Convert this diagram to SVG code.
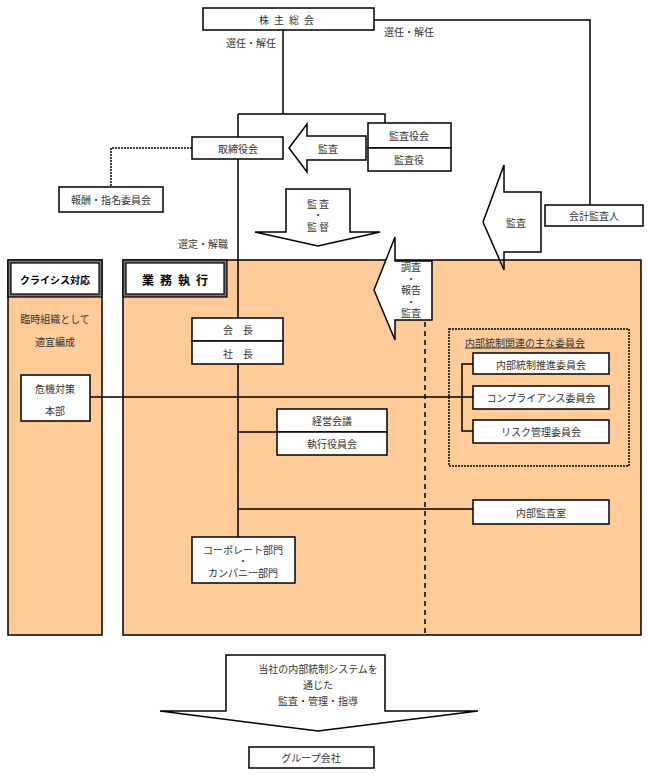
<svg xmlns="http://www.w3.org/2000/svg" width="648" height="775" viewBox="0 0 648 775">
<style>
text{font-family:"Noto Sans CJK JP","Noto Sans",sans-serif;font-size:10px;fill:#333;text-anchor:middle;dominant-baseline:central}
text.sd{font-size:8px;font-weight:bold}
.box{fill:#fff;stroke:#000;stroke-width:1.5}
.ln{fill:none;stroke:#000;stroke-width:1.5}
.dot{fill:none;stroke:#000;stroke-width:1.5;stroke-dasharray:2 1}
.dash{fill:none;stroke:#000;stroke-width:1.5;stroke-dasharray:5 4}
.panel{fill:#FFCC99;stroke:#000;stroke-width:1.5}
.arr{fill:#fff;stroke:#000;stroke-width:1.5;stroke-linejoin:miter}
.hdr{font-weight:bold;fill:#000}
</style>
<rect width="648" height="775" fill="#fff"/>

<polygon points="483,222 504,165 504,192 541,192 541,252 504,252 504,270" fill="#fff"/>

<g id="panel-crisis">
<rect class="panel" x="8" y="260" width="94" height="375"/>
<rect x="8" y="260" width="94" height="37" fill="#777" stroke="#000" stroke-width="1.2"/>
<rect x="11" y="263" width="88" height="31" fill="#fff" stroke="#000" stroke-width="1.2"/>
<text class="hdr" x="55" y="279">クライシス対応</text>
<text x="55" y="318">臨時組織として</text>
<text x="55" y="341">適宜編成</text>
</g>
<g id="panel-exec">
<rect class="panel" x="123" y="260" width="518" height="375"/>
<rect x="123" y="260" width="104" height="37" fill="#777" stroke="#000" stroke-width="1.2"/>
<rect x="126" y="263" width="98" height="31" fill="#fff" stroke="#000" stroke-width="1.2"/>
<text class="hdr" x="178" y="279" style="font-size:12px;letter-spacing:6px">業務執行</text>
</g>

<g id="connectors">
<polyline class="ln" points="283,30 283,114"/>
<polyline class="ln" points="238,114 385,114 385,123"/>
<polyline class="ln" points="238,114 238,137"/>
<polyline class="ln" points="374,20 590,20 590,205"/>
<polyline class="ln" points="238,159 238,318"/>
<polyline class="ln" points="238,364 238,537"/>
<polyline class="ln" points="238,432 277,432"/>
<polyline class="ln" points="238,509 473,509"/>
<polyline class="ln" points="90,397 473,397"/>
<polyline class="ln" points="473,364 462,364 462,431 473,431"/>
<polyline class="dot" points="192,148 111,148 111,187"/>
<line class="dash" x1="425" y1="322" x2="425" y2="635"/>
<polygon points="483,222 504,165 504,192 541,192 541,252 504,252 504,270" fill="none" stroke="#000" stroke-width="1.5"/>
<polygon class="arr" points="289,148 307,124 307,136 366,136 366,160 307,160 307,172"/>
<polygon class="arr" points="286,189 350,189 350,232 380,232 318,246 255,232 286,232"/>
<polygon class="arr" points="374,290 395,237 395,261 432,261 432,320 395,320 395,340"/>
<polygon class="arr" points="226,655 385,655 385,711 478,711 318,731 160,711 226,711"/>
</g>

<g id="labels">
<text x="251" y="42">選任・解任</text>
<text x="409" y="31">選任・解任</text>
<text x="203" y="243">選定・解職</text>
<text x="328" y="148">監査</text>
<text x="318" y="203">監 査</text>
<text class="sd" x="318" y="214.5">・</text>
<text x="318" y="226">監 督</text>
<text x="516" y="222">監査</text>
<text x="411" y="266.5">調査</text>
<text class="sd" x="411" y="278">・</text>
<text x="411" y="289.5">報告</text>
<text class="sd" x="411" y="301">・</text>
<text x="411" y="312.5">監査</text>
<text x="318" y="668">当社の内部統制システムを</text>
<text x="318" y="684">通じた</text>
<text x="318" y="700">監査・管理・指導</text>
</g>

<g id="n-shareholders"><rect class="box" x="203" y="8" width="171" height="22"/><text x="289" y="19" style="letter-spacing:5px">株主総会</text></g>
<g id="n-board"><rect class="box" x="192" y="137" width="91" height="22"/><text x="238" y="148">取締役会</text></g>
<g id="n-audit-board"><rect class="box" x="368" y="123" width="83" height="25"/><text x="409" y="135">監査役会</text></g>
<g id="n-auditor"><rect class="box" x="368" y="148" width="83" height="23"/><text x="409" y="159">監査役</text></g>
<g id="n-comp"><rect class="box" x="59" y="187" width="104" height="25"/><text x="111" y="199">報酬・指名委員会</text></g>
<g id="n-accountant"><rect class="box" x="545" y="205" width="98" height="21"/><text x="594" y="215">会計監査人</text></g>
<g id="n-crisis-hq"><rect class="box" x="21" y="375" width="69" height="46"/><text x="55" y="388">危機対策</text><text x="55" y="410">本部</text></g>
<g id="n-chairman"><rect class="box" x="192" y="318" width="91" height="23"/><text x="238" y="329">会　長</text></g>
<g id="n-president"><rect class="box" x="192" y="341" width="91" height="23"/><text x="238" y="353">社　長</text></g>
<g id="n-mgmt"><rect class="box" x="277" y="409" width="110" height="23"/><text x="332" y="420">経営会議</text></g>
<g id="n-exec-comm"><rect class="box" x="277" y="432" width="110" height="23"/><text x="332" y="443">執行役員会</text></g>
<g id="n-committees">
<rect class="dot" x="449" y="329" width="180" height="137" style="fill:none"/>
<text x="525" y="342">内部統制関連の主な委員会</text>
<line x1="465" y1="348" x2="585" y2="348" stroke="#333" stroke-width="1"/>
</g>
<g id="n-ic-comm"><rect class="box" x="473" y="353" width="136" height="21"/><text x="541" y="364">内部統制推進委員会</text></g>
<g id="n-compliance"><rect class="box" x="473" y="386" width="136" height="23"/><text x="541" y="397">コンプライアンス委員会</text></g>
<g id="n-risk"><rect class="box" x="473" y="420" width="136" height="23"/><text x="541" y="431">リスク管理委員会</text></g>
<g id="n-internal-audit"><rect class="box" x="473" y="500" width="136" height="24"/><text x="541" y="512">内部監査室</text></g>
<g id="n-divisions"><rect class="box" x="192" y="537" width="103" height="46"/><text x="243" y="549">コーポレート部門</text><text class="sd" x="243" y="560.5">・</text><text x="243" y="572">カンパニー部門</text></g>
<g id="n-group"><rect class="box" x="249" y="747" width="125" height="21"/><text x="311" y="757">グループ会社</text></g>
</svg>
